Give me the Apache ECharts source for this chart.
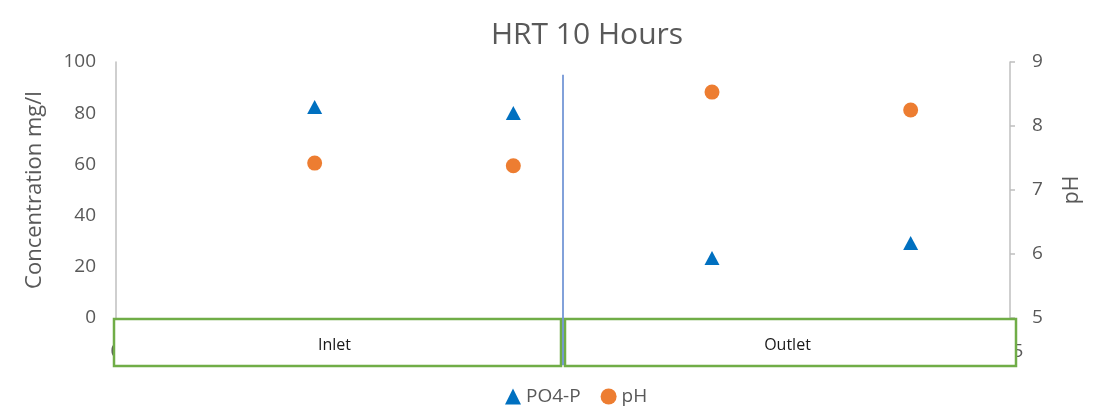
<!DOCTYPE html>
<html><head><meta charset="utf-8">
<script src="https://cdn.jsdelivr.net/npm/echarts@6/dist/echarts.min.js"></script>
<style>html,body{margin:0;padding:0;background:#fff}#c{width:1104px;height:413px}</style>
</head><body><div id="c"></div>
<script>
const title = "HRT 10 Hours";
const xPositions = [1, 2, 3, 4];
const po4 = [82.4, 80.1, 23.4, 29.3];
const ph = [7.42, 7.38, 8.53, 8.25];
const groups = ["Inlet", "Outlet"];
const groupBounds = [[0, 2.25], [2.25, 4.5]];
const divider = { x: 2.25, top: 95, bottom: -18.5 };
const leftTicks = { min: 0, max: 100, interval: 20 };
const rightTicks = { min: 5, max: 9, interval: 1 };

const FONT = "'Open Sans', 'Noto Sans', sans-serif";
const GREY = '#595959';
const chart = echarts.init(document.getElementById('c'), null, { renderer: 'canvas' });
const option = {
  animation: false,
  title: { text: title, left: 582, top: 15, textAlign: 'center',
    textStyle: { fontFamily: FONT, fontSize: 30, fontWeight: 'normal', color: GREY } },
  grid: { left: 116, right: 94, top: 62, bottom: 95, containLabel: false },
  legend: { data: ['PO4-P', 'pH'], bottom: 2, left: 500, itemWidth: 16, itemHeight: 16, itemGap: 20,
    textStyle: { fontFamily: FONT, fontSize: 19, color: GREY } },
  xAxis: { type: 'value', min: 0, max: 4.5, interval: 0.5,
    axisLine: { show: false }, axisTick: { show: false }, splitLine: { show: false },
    axisLabel: { fontFamily: FONT, fontSize: 19, color: GREY, margin: 24 } },
  yAxis: [
    { type: 'value', min: leftTicks.min, max: leftTicks.max, interval: leftTicks.interval,
      name: 'Concentration mg/l', nameLocation: 'middle', nameGap: 70, nameRotate: 90,
      nameTextStyle: { fontFamily: FONT, fontSize: 22, color: GREY },
      axisLine: { show: true, lineStyle: { color: '#BFBFBF', width: 1.5 } },
      axisTick: { show: false }, splitLine: { show: false },
      axisLabel: { fontFamily: FONT, fontSize: 19, color: GREY, margin: 20 } },
    { type: 'value', min: rightTicks.min, max: rightTicks.max, interval: rightTicks.interval, position: 'right',
      name: 'pH', nameLocation: 'middle', nameGap: 52, nameRotate: 90,
      nameTextStyle: { fontFamily: FONT, fontSize: 21, color: GREY },
      axisLine: { show: true, lineStyle: { color: '#BFBFBF', width: 1.5 } },
      axisTick: { show: true, length: 5, lineStyle: { color: '#BFBFBF', width: 1.5 } },
      splitLine: { show: false },
      axisLabel: { fontFamily: FONT, fontSize: 19, color: GREY, margin: 22 } }
  ],
  series: [
    { name: 'PO4-P', type: 'scatter', yAxisIndex: 0, symbol: 'triangle', symbolSize: [15, 14],
      itemStyle: { color: '#0070C0', opacity: 1 }, data: xPositions.map((x, i) => [x, po4[i]]) },
    { name: 'pH', type: 'scatter', yAxisIndex: 1, symbol: 'circle', symbolSize: 15,
      itemStyle: { color: '#ED7D31', opacity: 1 }, data: xPositions.map((x, i) => [x, ph[i]]) },
    { name: 'divider', type: 'line', yAxisIndex: 0, clip: false, symbol: 'none', silent: true, z: 200,
      lineStyle: { color: '#3F6FC6', width: 1.3 },
      data: [[divider.x, divider.top], [divider.x, divider.bottom]] }
  ]
};
chart.setOption(option);

const graphics = groups.map((g, i) => {
  const p0 = chart.convertToPixel({ gridIndex: 0 }, [groupBounds[i][0], 0]);
  const p1 = chart.convertToPixel({ gridIndex: 0 }, [groupBounds[i][1], 0]);
  const x0 = i === 0 ? p0[0] - 2 : p0[0] + 2;
  const x1 = i === 1 ? p1[0] + 6 : p1[0] - 2;
  return {
    type: 'group', z: 100,
    children: [
      { type: 'rect', z: 100, shape: { x: x0, y: p0[1] + 1, width: x1 - x0, height: 47 },
        style: { fill: '#fff', stroke: '#70AD47', lineWidth: 2.5 } },
      { type: 'text', z: 101, x: (x0 + x1) / 2 - 3, y: p0[1] + 27,
        style: { text: g, fontFamily: FONT, fontSize: 16, fill: '#1a1a1a', align: 'center', verticalAlign: 'middle' } }
    ]
  };
});
chart.setOption({ graphic: graphics });
</script></body></html>
